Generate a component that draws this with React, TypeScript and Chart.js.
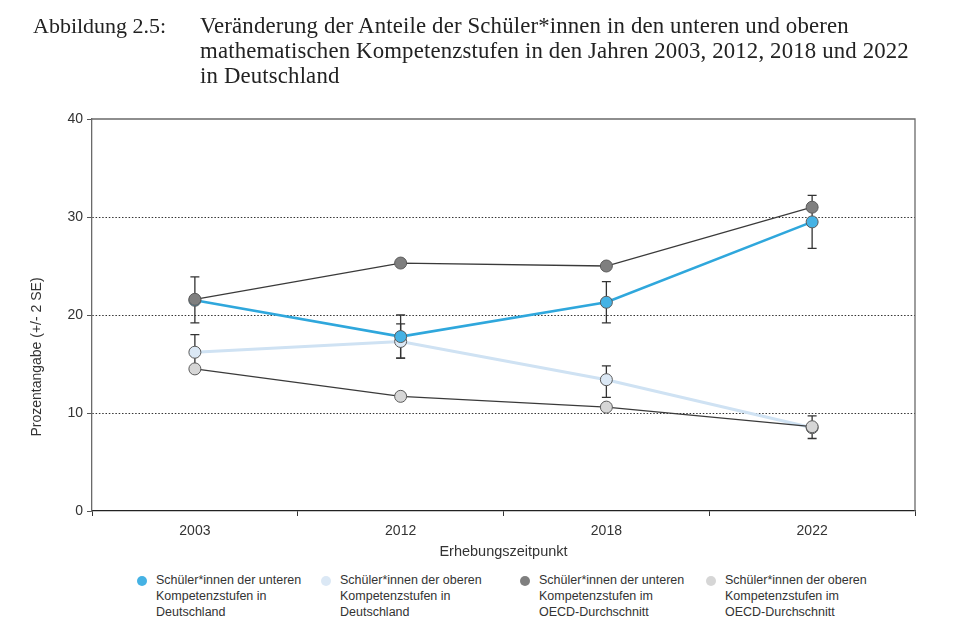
import React, { useEffect, useRef } from "react";
import { Chart, registerables } from "chart.js";

Chart.register(...registerables);

const categories = ["2003", "2012", "2018", "2022"];

const seriesLabels = [
  ["Schüler*innen der unteren", "Kompetenzstufen in", "Deutschland"],
  ["Schüler*innen der oberen", "Kompetenzstufen in", "Deutschland"],
  ["Schüler*innen der unteren", "Kompetenzstufen im", "OECD-Durchschnitt"],
  ["Schüler*innen der oberen", "Kompetenzstufen im", "OECD-Durchschnitt"],
];

const deLower = [21.5, 17.8, 21.3, 29.5];
const deLowerLo = [19.2, 15.6, 19.2, 26.8];
const deLowerHi = [23.9, 20.0, 23.4, 32.2];

const deUpper = [16.2, 17.3, 13.4, 8.5];
const deUpperLo = [14.4, 15.6, 11.6, 7.4];
const deUpperHi = [18.0, 19.1, 14.8, 9.7];

const oecdLower = [21.6, 25.3, 25.0, 31.0];
const oecdUpper = [14.5, 11.7, 10.6, 8.6];

const yTicks = [0, 10, 20, 30, 40];

const pointColors = ["#45b2e4", "#dbe8f5", "#7f7f7f", "#d6d6d6"];
const lineColors = ["#2fa7dc", "#cfe2f3", "#3a3a3a", "#3a3a3a"];

const title = "Abbildung 2.5:";
const titleLines = [
  "Veränderung der Anteile der Schüler*innen in den unteren und oberen",
  "mathematischen Kompetenzstufen in den Jahren 2003, 2012, 2018 und 2022",
  "in Deutschland",
];
const yTitle = "Prozentangabe (+/- 2 SE)";
const xTitle = "Erhebungszeitpunkt";

const SANS = '"Liberation Sans", Arial, sans-serif';

const errorBars: Record<number, { lo: number[]; hi: number[] }> = {
  0: { lo: deLowerLo, hi: deLowerHi },
  1: { lo: deUpperLo, hi: deUpperHi },
};

const errorBarPlugin = {
  id: "errorBars",
  beforeDatasetsDraw(chart: any) {
    const { ctx, scales } = chart;
    ctx.save();
    ctx.strokeStyle = "#333";
    ctx.lineWidth = 1.3;
    Object.keys(errorBars).forEach((k) => {
      const idx = Number(k);
      const eb = errorBars[idx];
      eb.lo.forEach((lo, i) => {
        const x = scales.x.getPixelForValue(i);
        const y1 = scales.y.getPixelForValue(lo);
        const y2 = scales.y.getPixelForValue(eb.hi[i]);
        ctx.beginPath();
        ctx.moveTo(x, y1);
        ctx.lineTo(x, y2);
        ctx.moveTo(x - 4.5, y1);
        ctx.lineTo(x + 4.5, y1);
        ctx.moveTo(x - 4.5, y2);
        ctx.lineTo(x + 4.5, y2);
        ctx.stroke();
      });
    });
    ctx.restore();
  },
};

const framePlugin = {
  id: "frame",
  afterDraw(chart: any) {
    const { ctx, chartArea: a } = chart;
    ctx.save();
    ctx.strokeStyle = "#6a6a6a";
    ctx.lineWidth = 1.3;
    ctx.beginPath();
    ctx.moveTo(a.left, a.top);
    ctx.lineTo(a.right, a.top);
    ctx.lineTo(a.right, a.bottom);
    ctx.stroke();
    // y axis title
    ctx.fillStyle = "#333";
    ctx.font = `14px ${SANS}`;
    ctx.textAlign = "center";
    ctx.textBaseline = "middle";
    ctx.translate(37, 357);
    ctx.rotate(-Math.PI / 2);
    ctx.fillText(yTitle, 0, 0);
    ctx.restore();
  },
};

export default function App() {
  const ref = useRef<HTMLCanvasElement | null>(null);

  useEffect(() => {
    if (!ref.current) return;
    const mk = (i: number, data: number[], width: number, order: number) => ({
      label: seriesLabels[i].join(" "),
      data,
      borderColor: lineColors[i],
      borderWidth: width,
      backgroundColor: pointColors[i],
      pointBackgroundColor: pointColors[i],
      pointBorderColor: "#5a5a5a",
      pointBorderWidth: 1,
      pointRadius: 6,
      pointHoverRadius: 6,
      tension: 0,
      order,
    });
    const chart = new Chart(ref.current, {
      type: "line",
      data: {
        labels: categories,
        datasets: [
          mk(0, deLower, 2.6, 2),
          mk(1, deUpper, 3, 3),
          mk(2, oecdLower, 1.3, 0),
          mk(3, oecdUpper, 1.3, 1),
        ],
      },
      options: {
        animation: false,
        responsive: false,
        layout: { padding: { left: 0, right: 38, top: 119, bottom: 0 } },
        plugins: {
          legend: { display: false },
          tooltip: { enabled: false },
        },
        scales: {
          x: {
            type: "category",
            offset: true,
            grid: {
              offset: true,
              drawOnChartArea: false,
              tickLength: 5,
              tickColor: "#333",
            },
            border: { display: true, color: "#222", width: 1.3 },
            ticks: {
              color: "#333",
              font: { family: SANS, size: 14 },
              padding: 7,
            },
            title: {
              display: true,
              text: xTitle,
              color: "#333",
              font: { family: SANS, size: 14.5 },
              padding: { top: 0, bottom: 9 },
            },
            afterFit(scale: any) {
              scale.height = 59;
            },
          },
          y: {
            min: 0,
            max: 40,
            afterBuildTicks(scale: any) {
              scale.ticks = yTicks.map((v) => ({ value: v }));
            },
            grid: {
              color: (c: any) =>
                c.tick && c.tick.value > 0 && c.tick.value < 40 ? "#333" : "rgba(0,0,0,0)",
              lineWidth: 1,
              tickLength: 5,
              tickColor: "#555",
              tickBorderDash: [1, 0],
            },
            border: { display: true, color: "#6a6a6a", width: 1.3, dash: [1.5, 1.8] },
            ticks: {
              color: "#333",
              font: { family: SANS, size: 14 },
              padding: 4,
            },
            afterFit(scale: any) {
              scale.width = 92;
            },
          },
        },
      },
      plugins: [errorBarPlugin, framePlugin],
    } as any);
    return () => chart.destroy();
  }, []);

  const legendX = [142, 326, 525, 711];

  return (
    <div
      style={{
        position: "fixed",
        left: 0,
        top: 0,
        width: 953,
        height: 635,
        background: "#fff",
        overflow: "hidden",
      }}
    >
      <canvas
        ref={ref}
        width={953}
        height={570}
        style={{ position: "absolute", left: 0, top: 0, width: 953, height: 570 }}
      />
      <div
        style={{
          position: "absolute",
          left: 33,
          top: 13,
          font: '22px "Liberation Serif", serif',
          lineHeight: "25px",
          color: "#222",
          whiteSpace: "nowrap",
        }}
      >
        {title}
      </div>
      <div
        style={{
          position: "absolute",
          left: 200,
          top: 13,
          font: '22.8px "Liberation Serif", serif',
          letterSpacing: "0.15px",
          lineHeight: "25px",
          color: "#222",
          whiteSpace: "nowrap",
        }}
      >
        {titleLines.map((l, i) => (
          <div key={i}>{l}</div>
        ))}
      </div>
      {seriesLabels.map((lines, i) => (
        <div key={i}>
          <div
            style={{
              position: "absolute",
              left: legendX[i] - 5,
              top: 576,
              width: 10,
              height: 10,
              borderRadius: 5,
              background: pointColors[i],
            }}
          />
          <div
            style={{
              position: "absolute",
              left: legendX[i] + 14,
              top: 573,
              font: `12.5px ${SANS}`,
              lineHeight: "15.8px",
              color: "#333",
              whiteSpace: "nowrap",
            }}
          >
            {lines.map((l, j) => (
              <div key={j}>{l}</div>
            ))}
          </div>
        </div>
      ))}
    </div>
  );
}
